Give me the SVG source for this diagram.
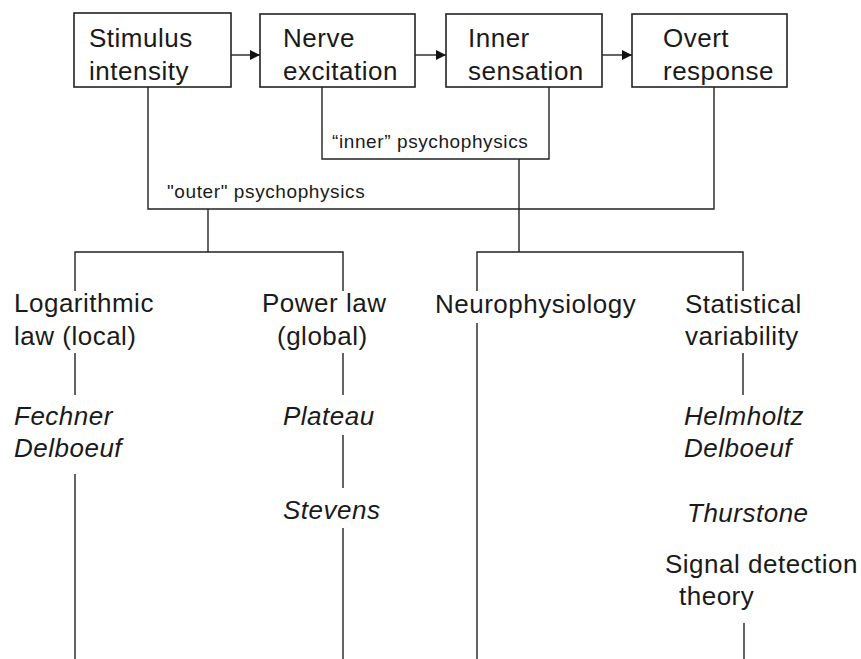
<svg xmlns="http://www.w3.org/2000/svg" width="861" height="659" viewBox="0 0 861 659">
<style>
  .box { fill: #fff; stroke: #222; stroke-width: 1.6; }
  .t { font-family: "Liberation Sans", Arial, sans-serif; font-size: 26px; letter-spacing: 0.5px; fill: #1a1a1a; }
  .i { font-style: italic; }
  .s { font-family: "Liberation Sans", Arial, sans-serif; font-size: 19px; letter-spacing: 0.6px; fill: #1a1a1a; }
  .ln { stroke: #222; stroke-width: 1.4; fill: none; }
</style>
<defs>
  <marker id="ah" markerWidth="10" markerHeight="10" refX="10" refY="5" orient="auto" markerUnits="userSpaceOnUse">
    <path d="M0,0 L10,5 L0,10 Z" fill="#111"/>
  </marker>
</defs>
<rect width="861" height="659" fill="#fff"/>
<g id="connectors">
  <line class="ln" x1="231" y1="55" x2="260" y2="55" marker-end="url(#ah)"/>
  <line class="ln" x1="415" y1="55" x2="446" y2="55" marker-end="url(#ah)"/>
  <line class="ln" x1="602" y1="55" x2="632" y2="55" marker-end="url(#ah)"/>
  <polyline class="ln" points="148,87 148,209 714,209 714,87"/>
  <polyline class="ln" points="322,87 322,159 549,159 549,87"/>
  <line class="ln" x1="208" y1="209" x2="208" y2="252"/>
  <polyline class="ln" points="75,291 75,252 343,252 343,291"/>
  <line class="ln" x1="519" y1="159" x2="519" y2="252"/>
  <polyline class="ln" points="477,291 477,252 743,252 743,291"/>
  <line class="ln" x1="75" y1="353" x2="75" y2="395"/>
  <line class="ln" x1="75" y1="474" x2="75" y2="659"/>
  <line class="ln" x1="343" y1="353" x2="343" y2="395"/>
  <line class="ln" x1="343" y1="435" x2="343" y2="488"/>
  <line class="ln" x1="343" y1="528" x2="343" y2="659"/>
  <line class="ln" x1="477" y1="323" x2="477" y2="659"/>
  <line class="ln" x1="743" y1="353" x2="743" y2="395"/>
  <line class="ln" x1="744" y1="623" x2="744" y2="659"/>
  <text class="s" x="332" y="148">“inner” psychophysics</text>
  <text class="s" x="167" y="198">"outer" psychophysics</text>
</g>
<g id="stimulus">
  <rect class="box" x="74" y="13" width="157" height="74"/>
  <text class="t" x="89" y="47">Stimulus</text>
  <text class="t" x="89" y="80">intensity</text>
</g>
<g id="nerve">
  <rect class="box" x="260" y="14" width="155" height="73"/>
  <text class="t" x="283" y="47">Nerve</text>
  <text class="t" x="283" y="80">excitation</text>
</g>
<g id="inner">
  <rect class="box" x="446" y="14" width="156" height="73"/>
  <text class="t" x="468" y="47">Inner</text>
  <text class="t" x="468" y="80">sensation</text>
</g>
<g id="overt">
  <rect class="box" x="632" y="14" width="155" height="73"/>
  <text class="t" x="663" y="47">Overt</text>
  <text class="t" x="663" y="80">response</text>
</g>
<g id="logarithmic">
  <text class="t" x="14" y="312">Logarithmic</text>
  <text class="t" x="14" y="345">law (local)</text>
</g>
<g id="fechner">
  <text class="t i" x="14" y="425">Fechner</text>
  <text class="t i" x="14" y="457">Delboeuf</text>
</g>
<g id="powerlaw">
  <text class="t" x="262" y="312">Power law</text>
  <text class="t" x="277" y="345">(global)</text>
</g>
<g id="plateau">
  <text class="t i" x="283" y="425">Plateau</text>
</g>
<g id="stevens">
  <text class="t i" x="283" y="519">Stevens</text>
</g>
<g id="neurophysiology">
  <text class="t" x="435" y="313">Neurophysiology</text>
</g>
<g id="statistical">
  <text class="t" x="685" y="313">Statistical</text>
  <text class="t" x="685" y="345">variability</text>
</g>
<g id="helmholtz">
  <text class="t i" x="684" y="425">Helmholtz</text>
  <text class="t i" x="684" y="457">Delboeuf</text>
</g>
<g id="thurstone">
  <text class="t i" x="687" y="522">Thurstone</text>
</g>
<g id="sdt">
  <text class="t" x="665" y="573">Signal detection</text>
  <text class="t" x="679" y="605">theory</text>
</g>
</svg>
